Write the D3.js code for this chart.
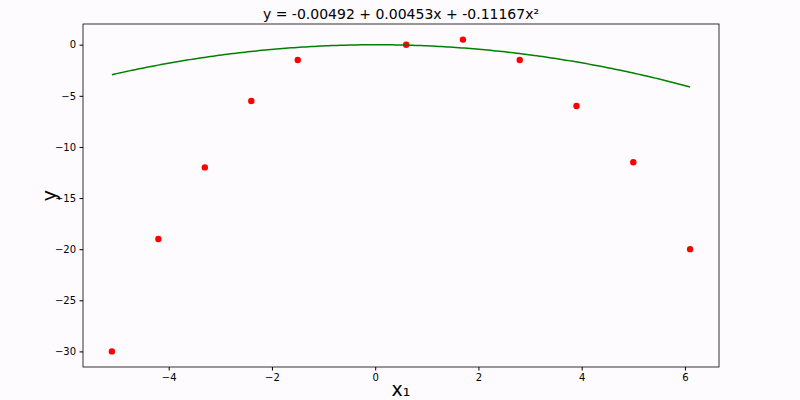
<!DOCTYPE html>
<html>
<head>
<meta charset="utf-8">
<script src="https://cdn.jsdelivr.net/npm/d3@7"></script>
<style>
  body { margin: 0; background: #fdfbfd; }
  text { font-family: "DejaVu Sans", sans-serif; }
</style>
</head>
<body>
<svg id="chart"></svg>
<script>
//observed points
const xs = [-5.1, -4.2, -3.3, -2.4, -1.5, 0.6, 1.7, 2.8, 3.9, 5.0, 6.1];
const ys = [-30, -19, -12, -5.5, -1.5, 0, 0.5, -1.5, -6, -11.5, -20];
//fitted polynomial coefficients (from title)
const coef = [-0.00492, 0.00453, -0.11167];
const xTicks = [-4, -2, 0, 2, 4, 6];
const yTicks = [0, -5, -10, -15, -20, -25, -30];

const width = 800, height = 400;
const margin = { top: 24, right: 81, bottom: 33, left: 83 };

const svg = d3.select("#chart").attr("width", width).attr("height", height);

//matplotlib style 5% padding
const xExt = d3.extent(xs), yExt = d3.extent(ys);
const xPad = (xExt[1] - xExt[0]) * 0.05, yPad = (yExt[1] - yExt[0]) * 0.05;

const x = d3.scaleLinear()
  .domain([xExt[0] - xPad, xExt[1] + xPad])
  .range([margin.left, width - margin.right]);
const y = d3.scaleLinear()
  .domain([yExt[0] - yPad, yExt[1] + yPad])
  .range([height - margin.bottom, margin.top]);

const fmt = d => (d < 0 ? "\u2212" + Math.abs(d) : d);

svg.append("g")
  .attr("transform", `translate(0,${height - margin.bottom})`)
  .call(d3.axisBottom(x).tickValues(xTicks).tickFormat(fmt).tickSize(3.5).tickPadding(3.5))
  .call(g => g.select(".domain").remove())
  .call(g => g.selectAll("text").attr("font-size", 10).attr("fill", "#000").style("font-family", "DejaVu Sans"));

svg.append("g")
  .attr("transform", `translate(${margin.left},0)`)
  .call(d3.axisLeft(y).tickValues(yTicks).tickFormat(fmt).tickSize(3.5).tickPadding(3.5))
  .call(g => g.select(".domain").remove())
  .call(g => g.selectAll("text").attr("font-size", 10).attr("fill", "#000").style("font-family", "DejaVu Sans"));

//frame
svg.append("rect")
  .attr("x", margin.left)
  .attr("y", margin.top)
  .attr("width", width - margin.left - margin.right)
  .attr("height", height - margin.top - margin.bottom)
  .attr("fill", "none")
  .attr("stroke", "#000")
  .attr("stroke-width", 0.8);

//points
svg.append("g")
  .selectAll("circle")
  .data(xs.map((d, i) => [d, ys[i]]))
  .join("circle")
  .attr("cx", d => x(d[0]))
  .attr("cy", d => y(d[1]))
  .attr("r", 3.2)
  .attr("fill", "#ff0000");

//fitted curve
const curve = d3.range(0, 201).map(i => {
  const xv = xExt[0] + (xExt[1] - xExt[0]) * i / 200;
  return [xv, coef[0] + coef[1] * xv + coef[2] * xv * xv];
});
svg.append("path")
  .datum(curve)
  .attr("d", d3.line().x(d => x(d[0])).y(d => y(d[1])))
  .attr("fill", "none")
  .attr("stroke", "#008000")
  .attr("stroke-width", 1.5);

//title and labels
svg.append("text")
  .attr("x", (margin.left + width - margin.right) / 2)
  .attr("y", 19)
  .attr("text-anchor", "middle")
  .attr("font-size", 14)
  .text("y = -0.00492 + 0.00453x + -0.11167x\u00b2");

svg.append("text")
  .attr("x", (margin.left + width - margin.right) / 2)
  .attr("y", 396)
  .attr("text-anchor", "middle")
  .attr("font-size", 19)
  .text("x\u2081");

svg.append("text")
  .attr("transform", `translate(56,${(margin.top + height - margin.bottom) / 2}) rotate(-90)`)
  .attr("text-anchor", "middle")
  .attr("font-size", 19)
  .text("y");
</script>
</body>
</html>
